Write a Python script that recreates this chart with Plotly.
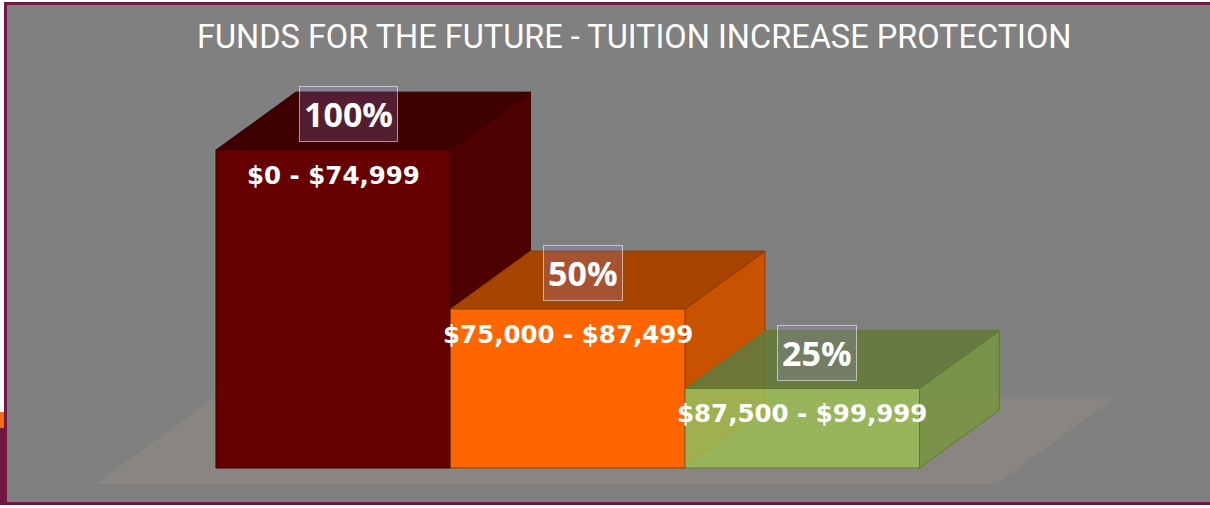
import plotly.graph_objects as go

# ---------------- data ----------------
categories = ["$0 - $74,999", "$75,000 - $87,499", "$87,500 - $99,999"]
protection = [100, 50, 25]
pct_labels = ["100%", "50%", "25%"]
title_text = "FUNDS FOR THE FUTURE - TUITION INCREASE PROTECTION"

# ---------------- style ----------------
face_front = ["#660000", "#FF6600", "#9BBB59"]
face_top = ["#3e0000", "#A84400", "#647A3C"]
face_side = ["#4d0000", "#C85200", "#799444"]
edge_col = ["#3a0000", "#8a3a00", "#5e7a2e"]
face_opacity = [1.0, 1.0, 0.9]
DX, DY = 0.341, 18.2          # oblique depth offset (x units, y units)
BAR_W = 1.0
FLOOR_PAD = 0.42
W, H = 1210, 508
BORDER = "#6f1a43"

fig = go.Figure()

# floor (parallelogram beneath the bars)
n = len(categories)
f_l, f_r = -BAR_W / 2 - FLOOR_PAD, n - 1 + BAR_W / 2 + FLOOR_PAD
d0, d1 = -0.275, 1.225
fx = [f_l + d0 * DX, f_r + d0 * DX, f_r + d1 * DX, f_l + d1 * DX, f_l + d0 * DX]
fy = [d0 * DY, d0 * DY, d1 * DY, d1 * DY, d0 * DY]
fig.add_trace(go.Scatter(x=fx, y=fy, mode="lines", fill="toself",
                         fillcolor="rgba(205,185,140,0.12)",
                         line=dict(width=0), hoverinfo="skip", showlegend=False))

for i, v in enumerate(protection):
    xl, xr = i - BAR_W / 2, i + BAR_W / 2
    faces = [
        ([xr, xr + DX, xr + DX, xr, xr], [0, DY, v + DY, v, 0], face_side[i]),
        ([xl, xr, xr + DX, xl + DX, xl], [v, v, v + DY, v + DY, v], face_top[i]),
        ([xl, xr, xr, xl, xl], [0, 0, v, v, 0], face_front[i]),
    ]
    for xs, ys, col in faces:
        fig.add_trace(go.Scatter(x=xs, y=ys, mode="lines", fill="toself",
                                 fillcolor=col, opacity=face_opacity[i],
                                 line=dict(color=edge_col[i], width=1),
                                 hoverinfo="skip", showlegend=False))

annotations = []
for i, v in enumerate(protection):
    annotations.append(dict(
        x=i, y=v, xref="x", yref="y", text=categories[i], showarrow=False,
        yshift=-25, xanchor="center", yanchor="middle",
        font=dict(family="DejaVu Sans", size=24.5, color="white", weight="bold")))
    annotations.append(dict(
        x=i, y=v, xref="x", yref="y", text=pct_labels[i], showarrow=False,
        xshift=15, yshift=36, xanchor="center", yanchor="middle",
        font=dict(family="Open Sans", size=34, color="white", weight="bold"),
        bgcolor="rgba(160,135,225,0.22)", bordercolor="rgba(255,255,255,0.55)",
        borderwidth=1, borderpad=4))

annotations.append(dict(
    x=634 / W, y=1 - 37 / H, xref="paper", yref="paper", text=title_text,
    showarrow=False, xanchor="center", yanchor="middle",
    font=dict(family="Roboto", size=32.5, color="white")))

def px_rect(x0, y0, x1, y1, color):
    return dict(type="rect", xref="paper", yref="paper", layer="below",
                x0=x0 / W, x1=x1 / W, y0=1 - y1 / H, y1=1 - y0 / H,
                fillcolor=color, line=dict(width=0))

shapes = [
    px_rect(4, 2, W + 10, 505, "#808080"),
    px_rect(4, 2, W + 10, 5, BORDER),        # top border
    px_rect(4, 2, 7, 505, BORDER),           # left border
    px_rect(4, 502, W + 10, 505, BORDER),    # bottom border
    px_rect(0, 428, 4, 505, BORDER),
    px_rect(0, 412, 4, 428, "#f26b1d"),
]

fig.update_layout(
    width=W, height=H, margin=dict(l=0, r=0, t=0, b=0),
    paper_bgcolor="white", plot_bgcolor="rgba(0,0,0,0)",
    xaxis=dict(range=[-1.421, 3.739], visible=False, fixedrange=True),
    yaxis=dict(range=[-12.58, 147.17], visible=False, fixedrange=True),
    annotations=annotations, shapes=shapes, showlegend=False,
)

fig.write_html("out.html", config={"displayModeBar": False},
               post_script="document.body.style.margin='0';document.body.style.overflow='hidden';")
